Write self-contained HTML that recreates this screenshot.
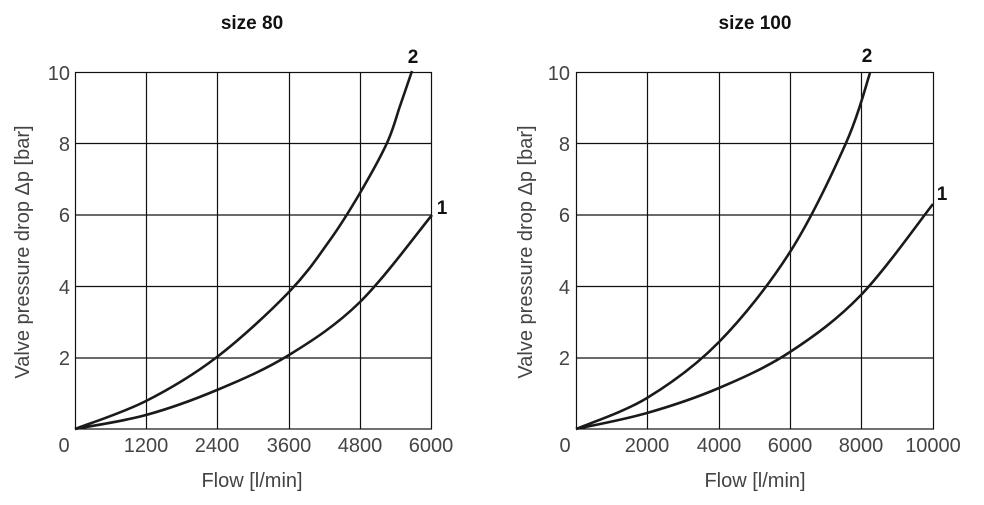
<!DOCTYPE html>
<html><head><style>
body{margin:0;background:#fff}
svg text{font-family:"Liberation Sans",sans-serif}
.t{font-size:20px;fill:#444}
.b{font-size:19px;font-weight:bold;fill:#111}
</style></head><body>
<svg width="984" height="500" viewBox="0 0 984 500">
<g stroke="#111" stroke-width="1.2" fill="none">
<rect x="75.5" y="72.5" width="356" height="356.5"/>
<path d="M146.5 72.5V429M217.5 72.5V429M289.5 72.5V429M360.5 72.5V429M75.5 143.5H431.5M75.5 215H431.5M75.5 286.5H431.5M75.5 358H431.5"/>
<rect x="576.5" y="72.5" width="357" height="356.5"/>
<path d="M647.5 72.5V429M719.5 72.5V429M790.5 72.5V429M861.5 72.5V429M576.5 143.5H933.5M576.5 215H933.5M576.5 286.5H933.5M576.5 358H933.5"/>
</g>
<g stroke="#1a1a1a" stroke-width="2.6" fill="none" stroke-linejoin="round" id="curves"></g>
<text class="b" x="252" y="29" text-anchor="middle">size 80</text>
<text class="b" x="755" y="29" text-anchor="middle">size 100</text>
<text class="b" x="413" y="63" text-anchor="middle">2</text>
<text class="b" x="442" y="214" text-anchor="middle">1</text>
<text class="b" x="867" y="62" text-anchor="middle">2</text>
<text class="b" x="942" y="200" text-anchor="middle">1</text>
<g class="t" text-anchor="end">
<text x="70" y="80">10</text><text x="70" y="151">8</text><text x="70" y="222">6</text><text x="70" y="294">4</text><text x="70" y="365">2</text>
<text x="570" y="80">10</text><text x="570" y="151">8</text><text x="570" y="222">6</text><text x="570" y="294">4</text><text x="570" y="365">2</text>
</g>
<g class="t" text-anchor="middle">
<text x="64" y="452">0</text><text x="146" y="452">1200</text><text x="217" y="452">2400</text><text x="289" y="452">3600</text><text x="360" y="452">4800</text><text x="431" y="452">6000</text>
<text x="565" y="452">0</text><text x="647" y="452">2000</text><text x="719" y="452">4000</text><text x="790" y="452">6000</text><text x="861" y="452">8000</text><text x="933" y="452">10000</text>
<text x="252" y="487">Flow [l/min]</text>
<text x="755" y="487">Flow [l/min]</text>
<text transform="translate(29,252) rotate(-90)">Valve pressure drop Δp [bar]</text>
<text transform="translate(532,252) rotate(-90)">Valve pressure drop Δp [bar]</text>
</g>
</svg>
<script>
var sets=[
[[75,429],[146,401],[217,357],[289,292],[330,240],[360,193],[387,143],[400,106],[412,71]],
[[75,429],[146,415],[217,390],[289,355],[360,302],[432,215]],
[[576,429],[647,398],[719,342],[790,252],[846,143],[870,73]],
[[576,429],[647,413],[719,388],[790,352],[861,295],[933,204]]];
var g=document.getElementById('curves');
sets.forEach(function(p){
 var d='M'+p[0][0]+' '+p[0][1];
 for(var i=0;i<p.length-1;i++){
  var p0=p[i-1]||p[i],p1=p[i],p2=p[i+1],p3=p[i+2]||p2;
  var c1=[p1[0]+(p2[0]-p0[0])/6,p1[1]+(p2[1]-p0[1])/6];
  var c2=[p2[0]-(p3[0]-p1[0])/6,p2[1]-(p3[1]-p1[1])/6];
  d+=' C'+c1.join(' ')+' '+c2.join(' ')+' '+p2.join(' ');
 }
 var e=document.createElementNS('http://www.w3.org/2000/svg','path');
 e.setAttribute('d',d);g.appendChild(e);
});
</script>
</body></html>
